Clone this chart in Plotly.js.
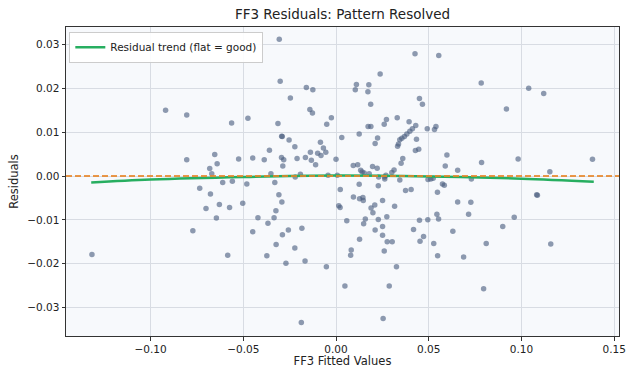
<!DOCTYPE html>
<html>
<head>
<meta charset="utf-8">
<script src="https://cdn.plot.ly/plotly-3.0.1.min.js"></script>
<style>html,body{margin:0;padding:0;background:#fff;}#chart{width:629px;height:368px;}</style>
</head>
<body>
<div id="chart"></div>
<script>
// Fitted values (x) and residuals (y)
const fittedValues = [
-0.0919,-0.0805,-0.0563,-0.0475,-0.0805,-0.0654,-0.0641,-0.0681,-0.0525,-0.0449,
-0.0670,-0.0735,-0.0677,-0.0611,-0.0559,-0.0481,-0.0701,-0.0629,-0.0574,-0.0503,
-0.0645,-0.0421,-0.0772,-0.0449,-0.1316,-0.0584,-0.0306,0.0426,0.0554,-0.0301,
0.0238,-0.0160,-0.0125,0.0110,0.0104,0.0177,0.0172,-0.0246,0.0187,0.0450,
0.0466,-0.0141,-0.0127,-0.0313,-0.0025,-0.0050,0.0272,0.0260,0.0330,0.0394,
0.0173,0.0188,0.0125,0.0492,0.0531,0.0539,-0.0293,-0.0290,-0.0253,0.0031,
-0.0084,-0.0068,-0.0222,-0.0359,0.0224,0.0211,0.0430,0.0412,0.0398,0.0382,
0.0369,0.0355,0.0344,0.0337,0.0332,0.0434,0.0428,0.0446,0.0360,0.0351,
-0.0387,-0.0294,-0.0282,-0.0287,-0.0210,-0.0165,-0.0138,-0.0133,-0.0110,-0.0099,
-0.0081,-0.0055,0.0000,0.0093,0.0117,0.0133,0.0141,0.0197,0.0222,0.0313,
0.0301,-0.0351,-0.0192,-0.0043,0.0007,0.0179,0.0269,0.0783,0.1039,0.1120,
0.0919,0.0598,0.0589,0.0656,0.0785,0.0982,0.1383,0.1153,-0.0220,-0.0330,
-0.0308,-0.0292,-0.0324,-0.0334,-0.0367,-0.0289,-0.0257,-0.0184,-0.0323,-0.0373,
-0.0222,-0.0270,-0.0167,-0.0052,-0.0187,0.0023,0.0015,0.0022,0.0058,0.0094,
0.0125,0.0127,0.0145,0.0147,0.0189,0.0209,0.0228,0.0251,0.0199,0.0228,
0.0158,0.0149,0.0274,0.0251,0.0211,0.0251,0.0127,0.0276,0.0303,0.0260,
0.0082,0.0079,0.0316,0.0263,0.0344,0.0375,0.0405,0.0326,0.0048,0.0287,
0.0254,0.0418,0.0450,0.0472,0.0453,0.0527,0.0547,0.0544,0.0553,0.0548,
0.0496,0.0511,0.0524,0.0230,0.0262,0.0495,0.0574,0.0584,0.0656,0.0727,
0.0715,0.0630,0.0810,0.0688,0.0899,0.0961,0.0796,0.0730,0.1082,0.1086,
0.1158,0.0152
];
const residuals = [
0.0150,0.0139,0.0121,0.0132,0.0037,0.0049,0.0028,0.0017,0.0039,0.0041,
0.0005,-0.0028,-0.0041,-0.0015,-0.0012,-0.0018,-0.0074,-0.0065,-0.0072,-0.0062,
-0.0096,-0.0095,-0.0125,-0.0127,-0.0179,-0.0181,0.0312,0.0279,0.0275,0.0216,
0.0233,0.0202,0.0197,0.0209,0.0197,0.0208,0.0192,0.0178,0.0164,0.0177,
0.0164,0.0152,0.0144,0.0120,0.0133,0.0118,0.0129,0.0118,0.0133,0.0124,
0.0113,0.0113,0.0096,0.0108,0.0106,0.0113,0.0091,0.0090,0.0082,0.0088,
0.0077,0.0064,0.0067,0.0059,0.0087,0.0074,0.0115,0.0108,0.0102,0.0096,
0.0090,0.0086,0.0083,0.0073,0.0068,0.0084,0.0058,0.0061,0.0040,0.0029,
0.0037,0.0042,0.0037,0.0023,0.0040,0.0042,0.0054,0.0036,0.0026,0.0052,
0.0047,0.0054,0.0038,0.0024,0.0026,0.0013,0.0009,0.0022,0.0018,0.0014,
0.0008,0.0005,0.0004,0.0002,0.0002,0.0005,0.0002,0.0212,0.0200,0.0188,
0.0153,0.0048,0.0023,0.0013,0.0031,0.0039,0.0038,0.0010,-0.0002,-0.0015,
-0.0043,-0.0059,-0.0079,-0.0095,-0.0108,-0.0134,-0.0123,-0.0119,-0.0156,-0.0182,
-0.0164,-0.0199,-0.0194,-0.0207,-0.0334,-0.0031,-0.0068,-0.0072,-0.0102,-0.0048,
-0.0019,-0.0052,-0.0049,-0.0056,-0.0073,-0.0066,-0.0022,-0.0056,-0.0084,-0.0099,
-0.0098,-0.0109,-0.0093,-0.0115,-0.0123,-0.0135,-0.0144,-0.0150,-0.0150,-0.0171,
-0.0169,-0.0181,-0.0069,-0.0007,-0.0009,-0.0033,-0.0031,-0.0207,-0.0251,-0.0251,
-0.0325,-0.0122,-0.0101,-0.0138,-0.0149,-0.0154,-0.0037,-0.0087,-0.0098,-0.0182,
-0.0008,-0.0007,-0.0005,-0.0002,-0.0002,-0.0100,-0.0018,-0.0021,-0.0059,-0.0060,
-0.0087,-0.0126,-0.0154,-0.0185,-0.0115,-0.0094,-0.0257,-0.0007,-0.0043,-0.0044,
-0.0155,0.0007
];
// Residual trend line
const trendX = [-0.132, -0.10, -0.05, 0.00, 0.05, 0.10, 0.139];
const trendY = [-0.0015, -0.0008, -0.0002, 0.0001, -0.0001, -0.0006, -0.0013];

const xTickVals = [-0.10, -0.05, 0.00, 0.05, 0.10, 0.15];
const xTickText = ['\u22120.10', '\u22120.05', '0.00', '0.05', '0.10', '0.15'];
const yTickVals = [-0.03, -0.02, -0.01, 0.00, 0.01, 0.02, 0.03];
const yTickText = ['\u22120.03', '\u22120.02', '\u22120.01', '0.00', '0.01', '0.02', '0.03'];

const FONT = 'DejaVu Sans, sans-serif';

const traces = [
  {
    x: fittedValues, y: residuals, type: 'scatter', mode: 'markers',
    marker: {color: 'rgba(74,94,128,0.62)', size: 5.5, line: {width: 0}},
    showlegend: false, hoverinfo: 'skip'
  },
  {
    x: trendX, y: trendY, type: 'scatter', mode: 'lines',
    line: {color: '#27ae60', width: 2.5, shape: 'spline'},
    name: 'Residual trend (flat = good)'
  }
];

const axisCommon = {
  showgrid: true, gridcolor: '#d8dce3', gridwidth: 1,
  zeroline: false, showline: true, mirror: true,
  linecolor: '#333', linewidth: 1,
  ticks: 'outside', ticklen: 3.5, tickwidth: 1, tickcolor: '#333',
  tickfont: {family: FONT, size: 10.5, color: '#222'}
};

const layout = {
  width: 629, height: 368,
  margin: {l: 66, r: 10, t: 27, b: 32},
  paper_bgcolor: '#ffffff', plot_bgcolor: '#f7f9fc',
  font: {family: FONT, color: '#222'},
  title: {text: 'FF3 Residuals: Pattern Resolved', font: {family: FONT, size: 13.5, color: '#222'},
          x: 0.5445, xanchor: 'center', y: 0.962, yanchor: 'middle'},
  xaxis: Object.assign({}, axisCommon, {
    range: [-0.1456, 0.1526], tickvals: xTickVals, ticktext: xTickText,
    title: {text: 'FF3 Fitted Values', font: {family: FONT, size: 11.5, color: '#222'}, standoff: 4}
  }),
  yaxis: Object.assign({}, axisCommon, {
    range: [-0.0365, 0.0340], tickvals: yTickVals, ticktext: yTickText,
    title: {text: 'Residuals', font: {family: FONT, size: 11.5, color: '#222'}, standoff: 6}
  }),
  shapes: [{
    type: 'line', xref: 'paper', x0: 0, x1: 1, yref: 'y', y0: 0, y1: 0,
    line: {color: 'rgba(232,134,40,0.85)', width: 2, dash: '6px,3px'}, layer: 'above'
  }],
  legend: {
    x: 0.006, y: 0.985, xanchor: 'left', yanchor: 'top',
    bgcolor: 'rgba(255,255,255,0.9)', bordercolor: '#cccccc', borderwidth: 1,
    font: {family: FONT, size: 10.5, color: '#222'}
  },
  showlegend: true
};

Plotly.newPlot('chart', traces, layout, {displayModeBar: false, staticPlot: true});
</script>
</body>
</html>
